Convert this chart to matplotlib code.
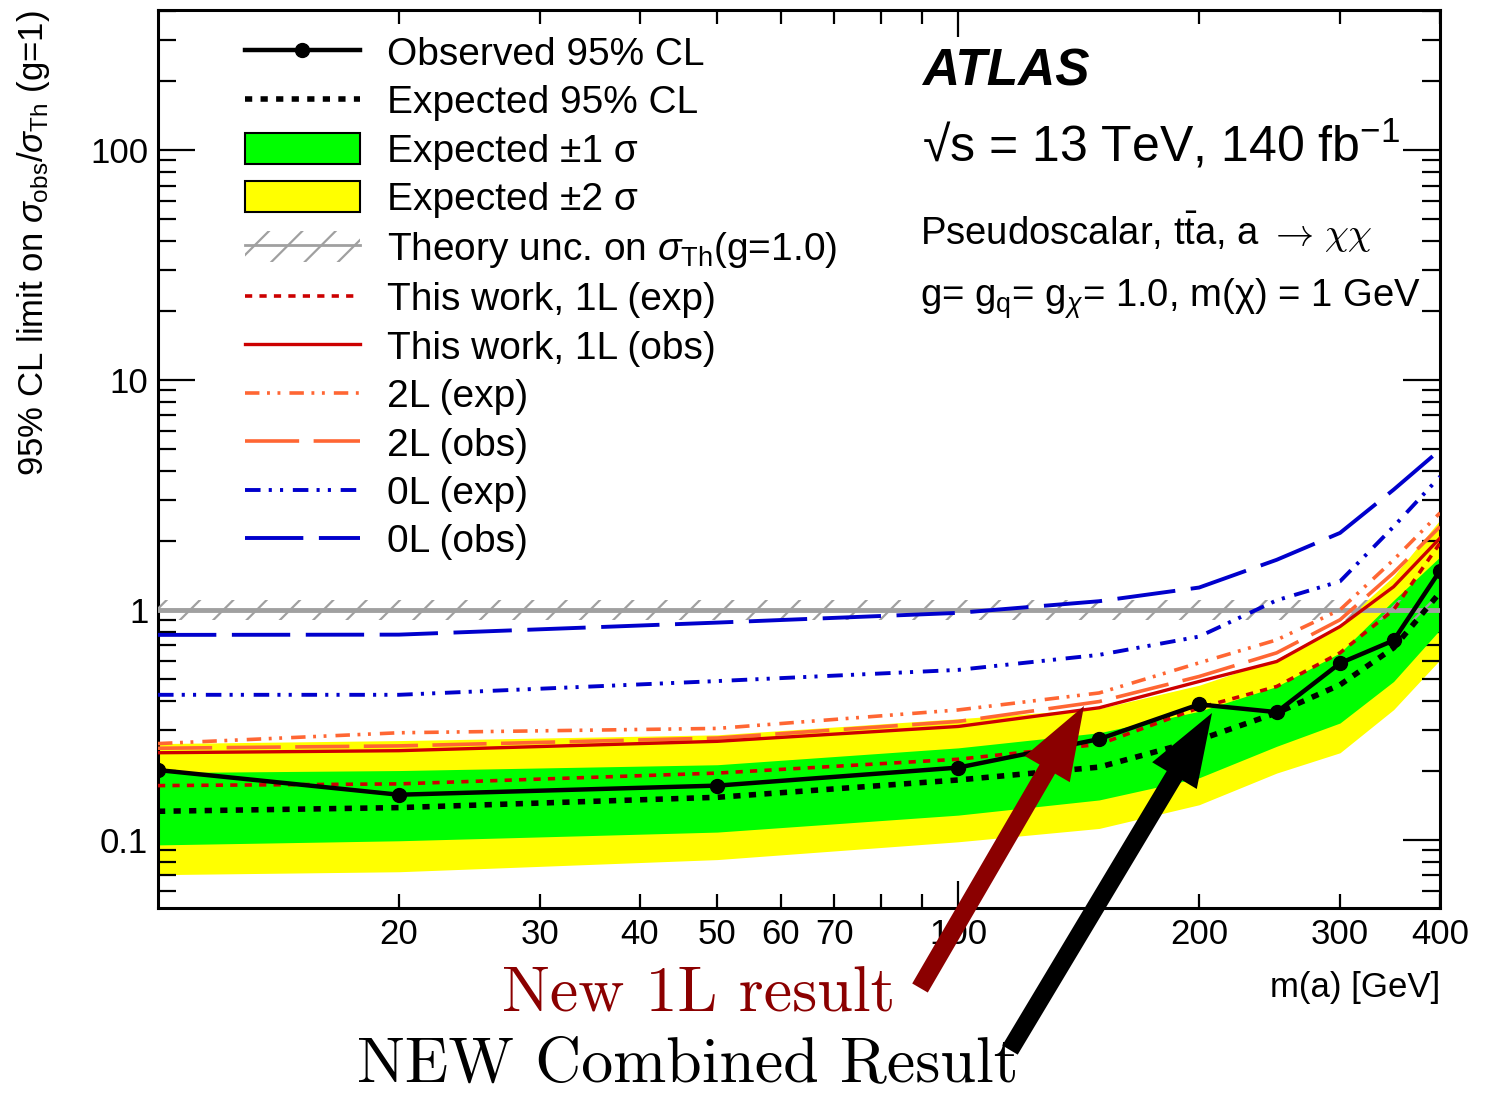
import matplotlib
matplotlib.use("Agg")
import matplotlib.pyplot as plt
from matplotlib.lines import Line2D
from matplotlib.patches import Patch, FancyArrow
from matplotlib.ticker import FixedLocator, FixedFormatter, NullFormatter
from matplotlib.transforms import IdentityTransform

plt.rcParams['font.family'] = ['Liberation Sans', 'DejaVu Sans']
plt.rcParams['mathtext.fontset'] = 'custom'
plt.rcParams['mathtext.rm'] = 'Liberation Sans'
plt.rcParams['mathtext.it'] = 'Liberation Sans:italic'
plt.rcParams['mathtext.bf'] = 'Liberation Sans:bold'
plt.rcParams['hatch.linewidth'] = 1.6

# ---------------- data ----------------
mass = [10, 20, 50, 100, 150, 200, 250, 300, 350, 400]
observed = [0.201, 0.157, 0.172, 0.206, 0.274, 0.388, 0.359, 0.586, 0.736, 1.48]
expected = [0.133, 0.138, 0.153, 0.182, 0.207, 0.272, 0.356, 0.472, 0.683, 1.19]
exp_p1 = [0.196, 0.200, 0.212, 0.251, 0.292, 0.362, 0.464, 0.650, 1.10, 1.70]
exp_m1 = [0.095, 0.099, 0.108, 0.128, 0.149, 0.186, 0.255, 0.322, 0.488, 0.82]
exp_p2 = [0.262, 0.270, 0.286, 0.336, 0.372, 0.470, 0.610, 0.860, 1.40, 2.46]
exp_m2 = [0.0705, 0.0726, 0.082, 0.098, 0.112, 0.142, 0.195, 0.239, 0.368, 0.606]
theory_nom = [1.0] * len(mass)
theory_lo = [0.905] * len(mass)
theory_hi = [1.105] * len(mass)
onel_exp = [0.172, 0.175, 0.195, 0.224, 0.260, 0.375, 0.464, 0.650, 1.00, 1.95]
onel_obs = [0.239, 0.244, 0.268, 0.311, 0.375, 0.488, 0.596, 0.846, 1.26, 2.05]
twol_exp = [0.262, 0.292, 0.305, 0.367, 0.435, 0.588, 0.740, 1.00, 1.65, 2.64]
twol_obs = [0.250, 0.256, 0.277, 0.327, 0.399, 0.513, 0.650, 0.905, 1.45, 2.30]
zerol_exp = [0.427, 0.427, 0.490, 0.548, 0.637, 0.765, 1.10, 1.33, 2.30, 3.80]
zerol_obs = [0.778, 0.780, 0.880, 0.970, 1.09, 1.25, 1.65, 2.16, 3.33, 4.96]

xtick_vals = [20, 30, 40, 50, 60, 70, 80, 90, 200, 300, 400]
xtick_labels = ['20', '30', '40', '50', '60', '70', '', '', '200', '300', '400']
ytick_vals = [0.1, 1, 10, 100]
ytick_labels = ['0.1', '1', '10', '100']

# ---------------- styles ----------------
GREEN = '#00FF00'
YELLOW = '#FFFF00'
RED = '#CC0000'
ORANGE = '#FF6633'
BLUE = '#0000CC'
GRAY = '#A0A0A0'
ls_dotted = (0, (1.3, 1.5))
ls_reddash = (0, (2.0, 2.0))
ls_dashdotdot = (0, (4.0, 2.1, 0.8, 2.1, 0.8, 2.5))
ls_longdash = (0, (15, 4))

W, H = 1488, 1096
fig = plt.figure(figsize=(W / 100, H / 100), dpi=100)
ax = fig.add_axes([158 / W, 1 - 908 / H, (1440 - 158) / W, (908 - 10) / H])
ax.set_xscale('log')
ax.set_yscale('log')
ax.set_xlim(10, 400)
ax.set_ylim(0.0505, 406)

ax.fill_between(mass, exp_m2, exp_p2, color=YELLOW, lw=0, zorder=1)
ax.fill_between(mass, exp_m1, exp_p1, color=GREEN, lw=0, zorder=2)
ax.fill_between(mass, theory_lo, theory_hi, facecolor='none', edgecolor=GRAY,
                hatch='/', lw=0, zorder=3)
ax.plot(mass, theory_nom, color=GRAY, lw=3.5, zorder=3)

ax.plot(mass, zerol_obs, color=BLUE, lw=2.8, ls=ls_longdash, zorder=4)
ax.plot(mass, zerol_exp, color=BLUE, lw=2.8, ls=ls_dashdotdot, zorder=4)
ax.plot(mass, twol_obs, color=ORANGE, lw=2.6, ls=ls_longdash, zorder=4)
ax.plot(mass, twol_exp, color=ORANGE, lw=2.6, ls=ls_dashdotdot, zorder=4)
ax.plot(mass, onel_obs, color=RED, lw=2.4, ls='-', zorder=5)
ax.plot(mass, onel_exp, color=RED, lw=2.6, ls=ls_reddash, zorder=5)
ax.plot(mass, expected, color='black', lw=4, ls=ls_dotted, zorder=6)
ax.plot(mass, observed, color='black', lw=3.2, marker='o', ms=10, zorder=7)

# ---------------- axes cosmetics ----------------
for sp in ax.spines.values():
    sp.set_linewidth(2.2)
ax.xaxis.set_major_locator(FixedLocator([100]))
ax.xaxis.set_major_formatter(FixedFormatter(['100']))
ax.xaxis.set_minor_locator(FixedLocator(xtick_vals))
ax.xaxis.set_minor_formatter(FixedFormatter(xtick_labels))
ax.yaxis.set_major_locator(FixedLocator(ytick_vals))
ax.yaxis.set_major_formatter(FixedFormatter(ytick_labels))
yminor = [m * 10.0 ** e for e in range(-2, 3) for m in range(2, 10)]
ax.yaxis.set_minor_locator(FixedLocator(yminor))
ax.yaxis.set_minor_formatter(NullFormatter())
ax.tick_params(axis='x', which='major', direction='in', length=19.5, width=1.6,
               top=True, labelsize=25, pad=7)
ax.tick_params(axis='x', which='minor', direction='in', length=10, width=1.6,
               top=True, labelsize=25, pad=7)
ax.tick_params(axis='y', which='major', direction='in', length=26.5, width=1.6,
               right=True, labelsize=25, pad=7)
ax.tick_params(axis='y', which='minor', direction='in', length=13, width=1.6,
               right=True)

ax.set_xlabel('m(a) [GeV]', fontsize=25, loc='right')
ax.xaxis.set_label_coords(1.0, -0.070)
ax.set_ylabel(r'95% CL limit on $\sigma_{\mathrm{obs}}/\sigma_{\mathrm{Th}}$ (g=1)',
              fontsize=25, loc='top')
ax.yaxis.set_label_coords(-0.083, 1.0)

# ---------------- legend ----------------
handles = [
    Line2D([], [], color='black', lw=3.2, marker='o', ms=10),
    Line2D([], [], color='black', lw=4, ls=ls_dotted),
    Patch(facecolor=GREEN, edgecolor='black', lw=1.5),
    Patch(facecolor=YELLOW, edgecolor='black', lw=1.5),
    (Patch(facecolor='none', edgecolor=GRAY, hatch='/', lw=0),
     Line2D([], [], color=GRAY, lw=2)),
    Line2D([], [], color=RED, lw=2.6, ls=ls_reddash),
    Line2D([], [], color=RED, lw=2.4),
    Line2D([], [], color=ORANGE, lw=2.6, ls=ls_dashdotdot),
    Line2D([], [], color=ORANGE, lw=2.6, ls=ls_longdash),
    Line2D([], [], color=BLUE, lw=2.8, ls=ls_dashdotdot),
    Line2D([], [], color=BLUE, lw=2.8, ls=ls_longdash),
]
labels = [
    'Observed 95% CL',
    'Expected 95% CL',
    'Expected \u00b11 \u03c3',
    'Expected \u00b12 \u03c3',
    r'Theory unc. on $\sigma_{\mathrm{Th}}$(g=1.0)',
    'This work, 1L (exp)',
    'This work, 1L (obs)',
    '2L (exp)',
    '2L (obs)',
    '0L (exp)',
    '0L (obs)',
]
leg = fig.legend(handles, labels, loc='upper left',
                 bbox_to_anchor=(245 / W, 1 - 36 / H), frameon=False,
                 fontsize=28, handlelength=2.95, handleheight=0.85,
                 handletextpad=0.7, labelspacing=0.295, borderpad=0,
                 borderaxespad=0)

# ---------------- text block ----------------
fig.text(922 / W, 1 - 85 / H, 'ATLAS', fontsize=37, fontweight='bold',
         fontstyle='italic', va='baseline')
fig.text(922 / W, 1 - 161 / H, '\u221as = 13 TeV, 140 fb$^{\\mathrm{-1}}$',
         fontsize=36, va='baseline')

renderer = fig.canvas.get_renderer()
yb = 1 - 245 / H
t1 = fig.text(920 / W, yb, 'Pseudoscalar, t$\\bar{\\mathrm{t}}$a, a',
              fontsize=27.5, va='baseline')
x1 = t1.get_window_extent(renderer).x1
t2 = fig.text((x1 + 9) / W, yb, r'$\rightarrow$', math_fontfamily='cm',
              fontsize=27.5, va='baseline')
x2 = t2.get_window_extent(renderer).x1
fig.text((x2 + 10) / W, yb, r'$\chi\chi$', math_fontfamily='cm',
         fontsize=27.5, va='baseline')

fig.text(920 / W, 1 - 307 / H,
         'g= g$_{\\mathrm{q}}$= g$_{\\chi}$= 1.0, m(\u03c7) = 1 GeV',
         fontsize=27.5, va='baseline')

# ---------------- annotations ----------------
fig.text(699 / W, 1 - 1011 / H, 'New 1L result', fontfamily='cmr10',
         fontsize=46, color='#8B0000', ha='center', va='baseline')
fig.text(688 / W, 1 - 1081 / H, 'NEW Combined Result', fontfamily='cmr10',
         fontsize=46, color='black', ha='center', va='baseline')

arr1 = FancyArrow(920, H - 988, 1084 - 920, 988 - 706, width=18, head_width=52,
                  head_length=73, length_includes_head=True, color='#8B0000',
                  transform=IdentityTransform(), lw=0)
arr2 = FancyArrow(1010, H - 1050, 1212 - 1010, 1050 - 713, width=18, head_width=52,
                  head_length=73, length_includes_head=True, color='black',
                  transform=IdentityTransform(), lw=0)
fig.add_artist(arr1)
fig.add_artist(arr2)

fig.savefig('out.png', dpi=100)
